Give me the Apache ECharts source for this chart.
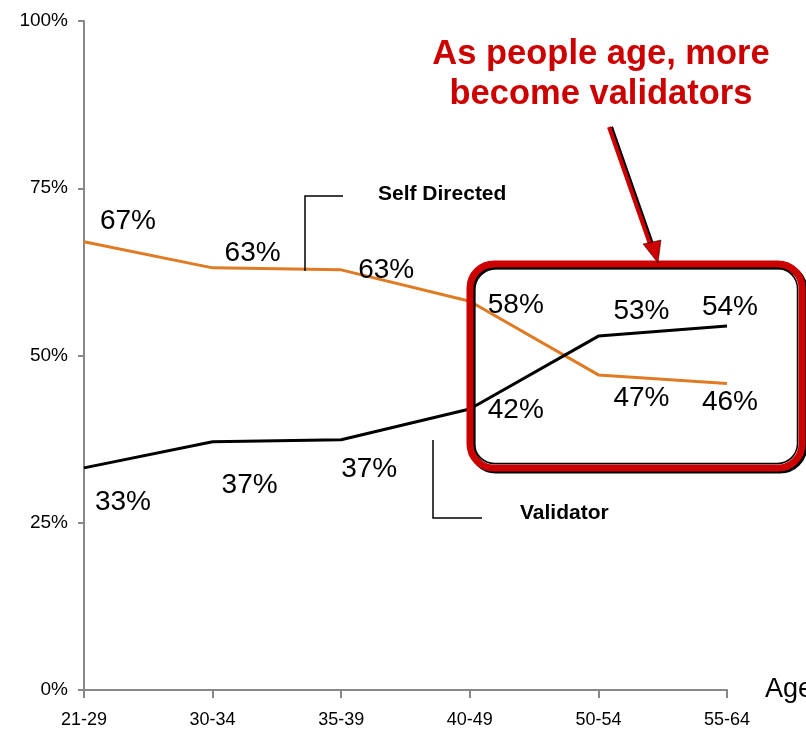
<!DOCTYPE html>
<html>
<head>
<meta charset="utf-8">
<script src="https://cdn.jsdelivr.net/npm/echarts@6/dist/echarts.min.js"></script>
<style>
  html, body { margin: 0; padding: 0; background: #fff; }
  #chart { width: 806px; height: 735px; }
</style>
</head>
<body>
<div id="chart"></div>
<script>
// Age bands on the category axis
const ageGroups = ['21-29', '30-34', '35-39', '40-49', '50-54', '55-64'];
// Share of each group, in percent
const selfDirected = [67, 63.1, 62.8, 58.1, 47.1, 45.8];
const validator = [33.2, 37.1, 37.4, 42.0, 52.9, 54.4];
// Rounded values shown as labels
const selfDirectedLabels = ['67%', '63%', '63%', '58%', '47%', '46%'];
const validatorLabels = ['33%', '37%', '37%', '42%', '53%', '54%'];
// Label placement relative to each point
const selfDirectedOffsets = [[44, -20], [40, -15], [45, 0], [46, 4], [43, 23], [3, 19]];
const validatorOffsets = [[39, 34], [37, 43], [28, 29], [46, 1], [43, -25], [3, -19]];
// Y axis ticks
const yTicks = [0, 25, 50, 75, 100];

const FONT = '"Liberation Sans", Arial, sans-serif';
const ORANGE = '#E07B24';
const RED = '#CC0000';

function buildPoints(values, labels, offsets) {
  return values.map((v, i) => ({
    value: v,
    label: { formatter: labels[i], offset: offsets[i] }
  }));
}

const chart = echarts.init(document.getElementById('chart'));

const lineLabel = {
  show: true,
  position: 'inside',
  align: 'center',
  verticalAlign: 'middle',
  color: '#000',
  fontFamily: FONT,
  fontSize: 28
};

chart.setOption({
  animation: false,
  grid: { left: 84, right: 79, top: 21, bottom: 45, containLabel: false, outerBoundsMode: 'none' },
  xAxis: {
    type: 'category',
    data: ageGroups,
    boundaryGap: false,
    name: 'Age',
    nameLocation: 'end',
    nameGap: 38,
    nameTextStyle: { color: '#000', fontFamily: FONT, fontSize: 27, verticalAlign: 'middle' },
    axisLine: { lineStyle: { color: '#888', width: 2 } },
    axisTick: { show: true, length: 8, lineStyle: { color: '#888', width: 2 } },
    axisLabel: { color: '#000', fontFamily: FONT, fontSize: 18, margin: 21 },
    splitLine: { show: false }
  },
  yAxis: {
    type: 'value',
    min: yTicks[0],
    max: yTicks[yTicks.length - 1],
    interval: 25,
    axisLine: { show: true, lineStyle: { color: '#888', width: 2 } },
    axisTick: { show: true, length: 6, lineStyle: { color: '#888', width: 2 } },
    axisLabel: { color: '#000', fontFamily: FONT, fontSize: 19, margin: 16, formatter: '{value}%' },
    splitLine: { show: false }
  },
  series: [
    {
      name: 'Self Directed',
      type: 'line',
      data: buildPoints(selfDirected, selfDirectedLabels, selfDirectedOffsets),
      symbol: 'circle',
      symbolSize: 1,
      showSymbol: true,
      itemStyle: { color: 'rgba(0,0,0,0)' },
      lineStyle: { color: ORANGE, width: 3 },
      label: lineLabel,
      z: 3
    },
    {
      name: 'Validator',
      type: 'line',
      data: buildPoints(validator, validatorLabels, validatorOffsets),
      symbol: 'circle',
      symbolSize: 1,
      showSymbol: true,
      itemStyle: { color: 'rgba(0,0,0,0)' },
      lineStyle: { color: '#000', width: 3 },
      label: lineLabel,
      z: 3
    }
  ],
  graphic: [
    // Series name callouts with leader lines
    {
      type: 'polyline', z: 50,
      shape: { points: [[343, 196], [305, 196], [305, 271]] },
      style: { stroke: '#000', lineWidth: 1.5, fill: null }
    },
    {
      type: 'text', z: 50, left: 378, top: 184,
      style: { text: 'Self Directed', fill: '#000', font: 'bold 21px ' + FONT }
    },
    {
      type: 'polyline', z: 50,
      shape: { points: [[433, 440], [433, 518], [482, 518]] },
      style: { stroke: '#000', lineWidth: 1.5, fill: null }
    },
    {
      type: 'text', z: 50, left: 520, top: 503,
      style: { text: 'Validator', fill: '#000', font: 'bold 21px ' + FONT }
    },
    // Highlight box around the older age bands
    {
      type: 'rect', z: 60,
      shape: { x: 472, y: 266, width: 332, height: 204, r: 24 },
      style: { stroke: '#000', lineWidth: 7, fill: null }
    },
    {
      type: 'rect', z: 61,
      shape: { x: 470, y: 264, width: 332, height: 204, r: 24 },
      style: { stroke: RED, lineWidth: 7, fill: null }
    },
    {
      type: 'rect', z: 62,
      shape: { x: 474.5, y: 268.5, width: 323, height: 195, r: 20 },
      style: { stroke: '#000', lineWidth: 1.5, fill: null }
    },
    // Callout arrow
    {
      type: 'line', z: 63,
      shape: { x1: 611, y1: 127, x2: 653, y2: 247 },
      style: { stroke: '#000', lineWidth: 4 }
    },
    {
      type: 'line', z: 64,
      shape: { x1: 609, y1: 127, x2: 651, y2: 247 },
      style: { stroke: RED, lineWidth: 4 }
    },
    {
      type: 'polygon', z: 64,
      shape: { points: [[643, 244], [661, 240], [658, 263]] },
      style: { fill: RED, stroke: '#000', lineWidth: 0.5 }
    },
    // Headline
    {
      type: 'text', z: 70,
      x: 601, y: 34,
      style: {
        text: 'As people age, more\nbecome validators',
        fill: RED,
        font: 'bold 34.5px ' + FONT,
        align: 'center',
        verticalAlign: 'top',
        lineHeight: 40
      }
    }
  ]
});
</script>
</body>
</html>
